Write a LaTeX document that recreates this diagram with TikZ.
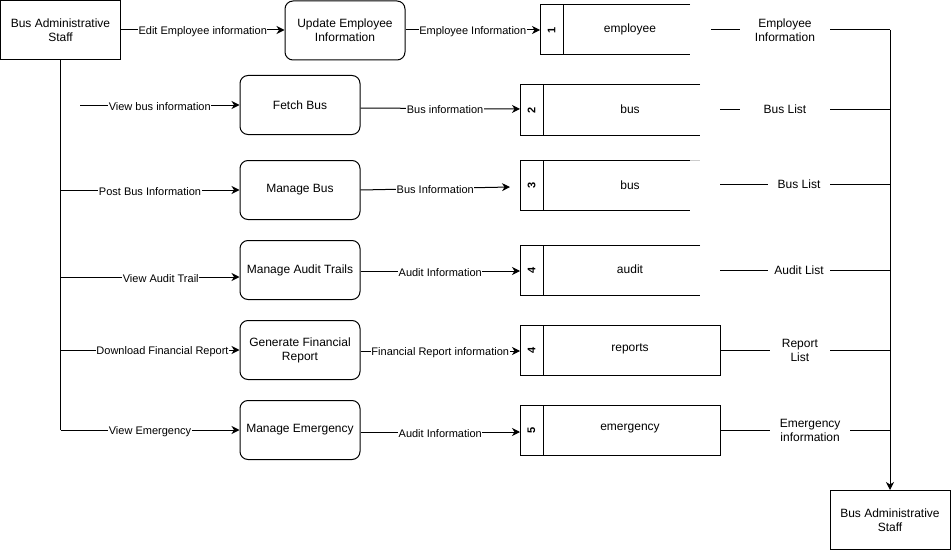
\documentclass[tikz,border=0pt]{standalone}
\usepackage{fontspec}
\setmainfont{Liberation Sans}
\usetikzlibrary{arrows.meta, positioning}

\begin{document}
\begin{tikzpicture}[x=1pt, y=-1pt, line width=1pt, >={Stealth[length=8pt, width=8pt, inset=2.5pt]},
    ent/.style={draw, minimum width=120pt, minimum height=59pt, inner sep=0pt,
        align=center, font=\fontsize{12}{14}\selectfont},
    proc/.style={ent, rounded corners=8pt},
    flowlbl/.style={fill=white, inner sep=0.5pt, yshift=-1.5pt, font=\fontsize{11}{13}\selectfont},
    listlbl/.style={fill=white, inner sep=0pt, minimum height=30pt, align=center,
        font=\fontsize{12}{14}\selectfont},
    storetxt/.style={font=\fontsize{12}{14}\selectfont},
    storenum/.style={font=\bfseries\fontsize{11}{13}\selectfont, rotate=90}]

    \useasboundingbox (0,0) rectangle (951,551);

    % =================================================================
    % ENTITIES AND PROCESSES
    % =================================================================
    \node[ent] (staff) at (60.5,30) {Bus Administrative\\Staff};
    \node[ent] (staff2) at (890,520) {Bus Administrative\\Staff};

    \node[proc] (upd) at (345,30.5) {Update Employee\\Information};
    \node[proc] (fetch) at (300,105) {Fetch Bus};
    \node[proc] (mbus) at (300,190) {Manage Bus};
    \node[proc] (maud) at (300,270) {Manage Audit Trails};
    \node[proc] (gfr) at (300,350) {Generate Financial\\Report};
    \node[proc] (memg) at (300,430) {Manage Emergency};

    % =================================================================
    % DATA STORES
    % =================================================================
    % employee
    \draw (690,5) -- (540,5) -- (540,55) -- (690,55);
    \draw (563,5) -- (563,55);
    \node[storenum] (n1) at (551.5,30) {1};
    \node[storetxt] (t1) at (630,29) {employee};

    % bus (fetch)
    \draw (700,85) -- (520,85) -- (520,135) -- (700,135);
    \draw (543,85) -- (543,135);
    \node[storenum] (n2) at (531.5,110) {2};
    \node[storetxt] (t2) at (630,109) {bus};

    % bus (manage)
    \draw (690,160) -- (520,160) -- (520,210) -- (690,210);
    \draw[gray!40] (690,160) -- (700,160);
    \draw (543,160) -- (543,210);
    \node[storenum] (n3) at (531.5,185) {3};
    \node[storetxt] (t3) at (630,185) {bus};

    % audit
    \draw (700,245) -- (520,245) -- (520,295) -- (700,295);
    \draw (543,245) -- (543,295);
    \node[storenum] (n4) at (531.5,270) {4};
    \node[storetxt] (t4) at (630,269) {audit};

    % reports
    \draw (520,325) rectangle (720,375);
    \draw (543,325) -- (543,375);
    \node[storenum] (n5) at (531.5,350) {4};
    \node[storetxt] (t5) at (630,349) {reports};

    % emergency
    \draw (520,405) rectangle (720,455);
    \draw (543,405) -- (543,455);
    \node[storenum] (n6) at (531.5,430) {5};
    \node[storetxt] (t6) at (630,429) {emergency};

    % store inputs
    \coordinate (s1w) at (540,30);
    \coordinate (s2w) at (520,109);
    \coordinate (s3w) at (510,187);
    \coordinate (s4w) at (520,271);
    \coordinate (s5w) at (520,351);
    \coordinate (s6w) at (520,432);

    % =================================================================
    % FLOWS FROM THE STAFF
    % =================================================================
    \coordinate (vbin) at (80,105);
    \coordinate (vat) at ([yshift=-7pt]maud.west);
    \coordinate (trend) at (60.5,430);

    \draw (staff.south) -- (trend);
    \draw[->] (staff.east) -- node[flowlbl] {Edit Employee information} (upd.west |- staff.east);
    \draw[->] (vbin) -- node[flowlbl] {View bus information} (fetch.west);
    \draw[->] (staff.south |- mbus.west) -- node[flowlbl] {Post Bus Information} (mbus.west);
    \draw[->] (staff.south |- vat) -- node[flowlbl, pos=0.56] {View Audit Trail} (vat);
    \draw[->] (staff.south |- gfr.west) -- node[flowlbl, pos=0.57] {Download Financial Report} (gfr.west);
    \draw[->] (trend) -- node[flowlbl] {View Emergency} (memg.west);

    % =================================================================
    % FLOWS INTO THE STORES
    % =================================================================
    \draw[->] (upd.east |- s1w) -- node[flowlbl] {Employee Information} (s1w);
    \draw[->] ([yshift=-3pt]fetch.east) -- node[flowlbl, pos=0.53] {Bus information} (s2w);
    \draw[->] (mbus.east) -- node[flowlbl] {Bus Information} (s3w);
    \draw[->] (maud.east |- s4w) -- node[flowlbl] {Audit Information} (s4w);
    \draw[->] (gfr.east |- s5w) -- node[flowlbl] {Financial Report information} (s5w);
    \draw[->] (memg.east |- s6w) -- node[flowlbl] {Audit Information} (s6w);

    % =================================================================
    % LISTS BACK TO THE STAFF
    % =================================================================
    \coordinate (a1) at (711,30);   \coordinate (j1) at (890,30);
    \coordinate (a2) at (720,109);  \coordinate (j2) at (890,109);
    \coordinate (a3) at (720,184);  \coordinate (j3) at (890,184);
    \coordinate (a4) at (720,270);  \coordinate (j4) at (890,270);
    \coordinate (a5) at (720,350);  \coordinate (j5) at (890,350);
    \coordinate (a6) at (720,430);  \coordinate (j6) at (890,430);

    \draw (a1) -- node[listlbl, pos=0.413, minimum width=90pt] {Employee\\Information} (j1);
    \draw (a2) -- node[listlbl, pos=0.382, minimum width=90pt] {Bus List} (j2);
    \draw (a3) -- node[listlbl, pos=0.465, minimum width=62pt] {Bus List} (j3);
    \draw (a4) -- node[listlbl, pos=0.465, minimum width=62pt] {Audit List} (j4);
    \draw (a5) -- node[listlbl, pos=0.47, minimum width=60pt] {Report\\List} (j5);
    \draw (a6) -- node[listlbl, pos=0.53, minimum width=80pt] {Emergency\\information} (j6);

    \draw[->] (j1) -- (staff2.north);

\end{tikzpicture}
\end{document}
